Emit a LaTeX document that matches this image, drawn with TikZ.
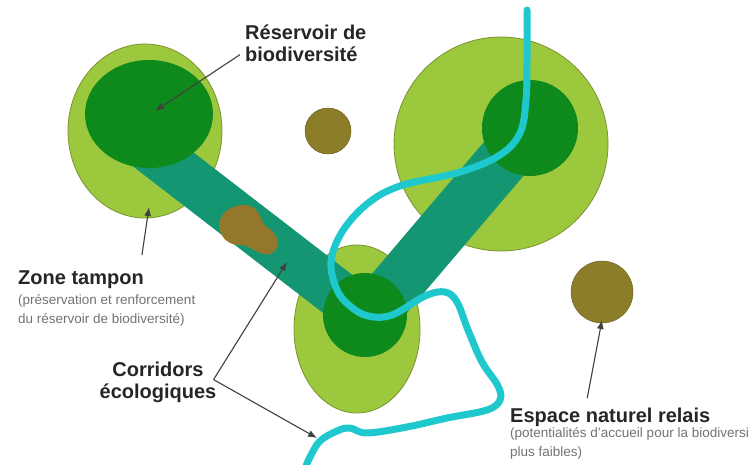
\documentclass[tikz,border=0pt]{standalone}
\usepackage{fontspec}
\setmainfont{Liberation Sans}
\usetikzlibrary{arrows.meta}
\definecolor{zonegreen}{HTML}{9BC83C}
\definecolor{zoneedge}{HTML}{7D9130}
\definecolor{resgreen}{HTML}{0E8A1C}
\definecolor{corteal}{HTML}{149673}
\definecolor{relbrown}{HTML}{8C7D28}
\definecolor{blobbrown}{HTML}{93782C}
\definecolor{rivercyan}{HTML}{1EC8CD}
\tikzset{
  zone/.style={fill=zonegreen, draw=zoneedge, line width=0.8pt},
  corridor/.style={draw=corteal, line width=48pt},
  relais/.style={fill=relbrown, draw=relbrown!80!black, line width=0.5pt},
  river/.style={draw=rivercyan, line width=7pt, line cap=round, line join=round},
  title/.style={font=\bfseries\fontsize{20}{22}\selectfont, text=black!85, inner sep=0pt},
  note/.style={font=\fontsize{13.5}{19}\selectfont, text=black!55, align=left, inner sep=0pt},
  pointer/.style={draw=black!75, line width=1.1pt, -{Latex[length=9pt,width=7pt]}},
}
\begin{document}
\begin{tikzpicture}[x=1pt,y=-1pt]
  \path[use as bounding box, fill=white] (0,0) rectangle (749,465);
  \foreach \xy/\rx/\ry in {(145,131)/77/87,(501,144)/107/107,(357,329)/63/84}
    \draw[zone, shift={\xy}] (0,0) ellipse ({\rx} and {\ry});

  \draw[corridor] (142,143) -- (365,315);
  \draw[corridor, line width=52pt] (371,315) -- (530,128);

  \foreach \xy/\rx/\ry in {(149,114)/64/54,(530,128)/48/48,(365,315)/42/42}
    \fill[resgreen, shift={\xy}] (0,0) ellipse ({\rx} and {\ry});

  \fill[blobbrown] plot[smooth cycle, tension=0.7] coordinates {(220,220) (229,209) (245,205) (257,211) (264,224) (274,233) (278,245) (270,254) (258,252) (246,246) (230,243) (221,233)};
  \draw[relais] (328,131) circle (23);
  \draw[relais] (602,292) circle (31);

  \draw[river] plot[smooth, tension=0.6] coordinates {(527,10) (527,60) (526,100) (520,133) (500,155) (460,172) (400,186) (367,204) (342,232) (331,262) (337,290) (350,306) (368,316) (392,315) (425,296) (445,292) (457,302) (468,330) (482,362) (498,386) (500,400) (487,410) (447,418) (407,427) (367,433) (350,428) (337,431) (320,441) (310,457) (306,466)};

  \node[title, align=left, anchor=north west] (lblRes) at (245,25) {Réservoir de\\biodiversité};
  \node[title, anchor=north west] (lblZone) at (18,271) {Zone tampon};
  \node[note, anchor=north west] (noteZone) at (18,294) {(préservation et renforcement\\du réservoir de biodiversité)};
  \node[title, align=center, anchor=north] (lblCor) at (158,362) {Corridors\\écologiques};
  \node[title, anchor=north west] (lblEsp) at (510,408) {Espace naturel relais};
  \node[note, anchor=north west] (noteEsp) at (510,427) {(potentialités d'accueil pour la biodiversité\\plus faibles)};

  \coordinate (resCore) at (155,111);
  \coordinate (zoneEdge) at (149,207);
  \coordinate (corLeft) at (287,262);
  \coordinate (corRiver) at (317,438);
  \coordinate (relaisEdge) at (602,320);
  \coordinate (corFork) at ([xshift=-3pt,yshift=3pt]lblCor.east);

  \draw[pointer] ([xshift=-5pt,yshift=-11pt]lblRes.west) -- (resCore);
  \draw[pointer] ([xshift=-2pt,yshift=16pt]lblZone.north east) -- (zoneEdge);
  \draw[pointer] (corFork) -- (corLeft);
  \draw[pointer] (corFork) -- (corRiver);
  \draw[pointer] ([xshift=-23pt,yshift=10pt]lblEsp.north) -- (relaisEdge);
\end{tikzpicture}
\end{document}
